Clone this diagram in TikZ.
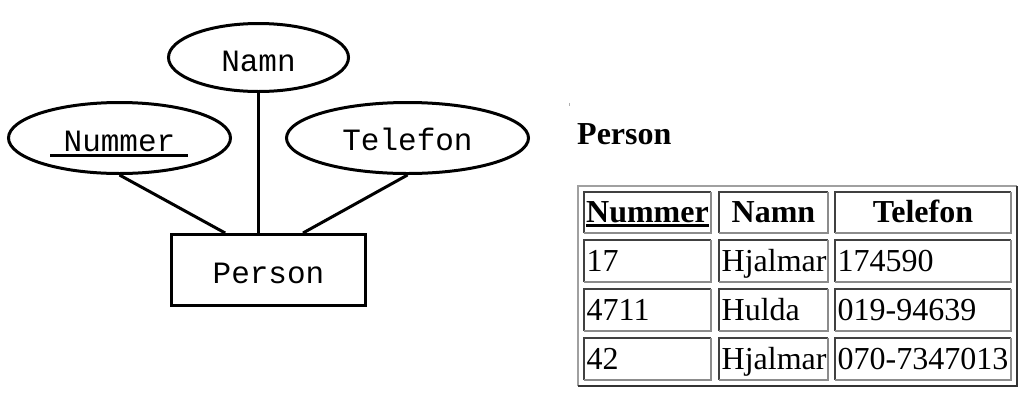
\documentclass[tikz,border=0pt]{standalone}
\usepackage{fontspec}
\setmainfont{Liberation Serif}
\setmonofont{Liberation Mono}
\usetikzlibrary{shapes.geometric,calc}
\definecolor{bdark}{HTML}{404040}
\definecolor{blight}{HTML}{8C8C8C}
\definecolor{olight}{HTML}{A0A0A0}
\definecolor{odark}{HTML}{333333}
\definecolor{speck}{HTML}{B0B0B0}
\newcommand{\tcell}[4]{%
  \draw[bdark,line width=2pt] (#1+1,#4-1) |- (#3-1,#2+1);
  \draw[blight,line width=2pt] (#1+1,#4-1) -| (#3-1,#2+1);}
\begin{document}
\begin{tikzpicture}[x=1pt,y=-1pt,line join=miter]
\tikzset{
  attr/.style={ellipse, draw, line width=3pt, inner sep=0pt},
  entity/.style={rectangle, draw, line width=3pt, inner sep=0pt},
  erlabel/.style={font=\fontsize{31}{31}\selectfont\ttfamily, anchor=base, inner sep=0pt},
  conn/.style={line width=3pt},
  tabtext/.style={font=\fontsize{32}{32}\selectfont, anchor=base west, inner sep=0pt},
  tabhead/.style={font=\fontsize{32}{32}\selectfont\bfseries, anchor=base, inner sep=0pt},
}
\useasboundingbox (0,0) rectangle (1035,405);

% ---- ER diagram ----
\node[attr, minimum width=180pt, minimum height=68pt] (namn) at (258.5,57.5) {};
\node[attr, minimum width=222pt, minimum height=71pt] (nummer) at (119.5,138) {};
\node[attr, minimum width=242pt, minimum height=71pt] (telefon) at (407.5,138) {};
\node[entity, minimum width=194pt, minimum height=71pt] (person) at (268.5,270) {};

\node[erlabel] (namnt) at ($(namn.center)+(0,13.5)$) {Namn};
\node[erlabel] (nummert) at ($(nummer.center)+(0,13.5)$) {Nummer};
\node[erlabel] (telefont) at ($(telefon.center)+(0,12.5)$) {Telefon};
\node[erlabel] (persont) at ($(person.center)+(0,13)$) {Person};
\draw[line width=3pt] ($(nummer.center)+(-69.5,17)$) -- ++(138,0);

\draw[conn] (nummer.south) -- ($(person.north west)!0.28!(person.north east)$);
\draw[conn] (namn.south) -- (namn.south |- person.north);
\draw[conn] (telefon.south) -- ($(person.north west)!0.675!(person.north east)$);

% ---- table ----
\draw[speck, line width=0.7pt] (569.5,102.5) -- (569.5,106);
\node[tabhead, anchor=base west] (title) at (577,144) {Person};

\draw[olight,line width=2pt] (578,386) |- (1017,186);
\draw[odark,line width=2pt] (578,386) -| (1017,186);

\foreach \ya/\yb in {191/234, 239/283, 288/332, 337/381}{
  \tcell{583}{\ya}{712}{\yb}
  \tcell{718}{\ya}{829}{\yb}
  \tcell{834}{\ya}{1012}{\yb}
}

\node[tabhead] (hnum) at (647.5,222.5) {Nummer};
\draw[line width=2.6pt] ([yshift=-3.2pt]hnum.base west) -- ([yshift=-3.2pt]hnum.base east);
\node[tabhead] (hnamn) at (773.5,222.5) {Namn};
\node[tabhead] (htel) at (923,222.5) {Telefon};

\node[tabtext] (r1a) at (586.5,271.5) {17};
\node[tabtext] (r1b) at (721.5,271.5) {Hjalmar};
\node[tabtext] (r1c) at (837.5,271.5) {174590};
\node[tabtext] (r2a) at (586.5,320.5) {4711};
\node[tabtext] (r2b) at (721.5,320.5) {Hulda};
\node[tabtext] (r2c) at (837.5,320.5) {019-94639};
\node[tabtext] (r3a) at (586.5,369.5) {42};
\node[tabtext] (r3b) at (721.5,369.5) {Hjalmar};
\node[tabtext] (r3c) at (837.5,369.5) {070-7347013};
\end{tikzpicture}
\end{document}
